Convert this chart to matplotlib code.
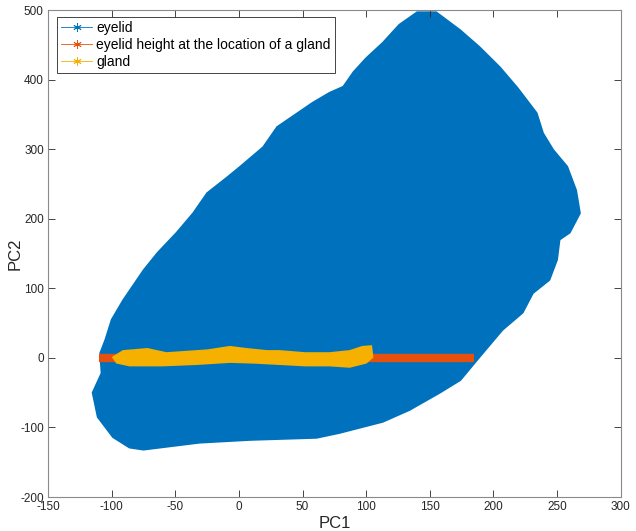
import matplotlib.pyplot as plt
from matplotlib.lines import Line2D

plt.rcParams['font.family'] = ['Liberation Sans', 'DejaVu Sans']
plt.rcParams['axes.unicode_minus'] = False

# eyelid outline in PC space, clockwise from the top
eyelid_pc1 = [140, 155, 174, 189, 205, 219, 234, 239, 247, 258, 265, 268, 260, 252,
              250, 244, 231, 223, 207, 189, 174, 158, 134, 113, 79, 61, 9, -31,
              -75, -86, -99, -111, -115, -108, -109, -105, -100, -91, -75, -64,
              -49, -36, -25, -9, 1, 19, 30, 58, 71, 82, 90, 100, 113, 126]
eyelid_pc2 = [497, 497, 471, 447, 418, 388, 352, 323, 299, 275, 241, 208, 180, 170,
              141, 112, 93, 65, 40, 1, -32, -50, -75, -92, -108, -115, -118, -122,
              -132, -129, -114, -85, -50, -22, 7, 26, 55, 83, 126, 151,
              180, 208, 237, 260, 275, 303, 332, 367, 381, 390, 411, 431, 453, 479]

# eyelid height measured through the gland
height_pc1 = [-110, 185]
height_pc2 = [0, 0]

# gland outline (upper edge left to right, then lower edge back)
gland_pc1 = [-99, -91, -72, -57, -41, -25, -7, 6, 22, 32, 52, 71, 87, 97, 104,
             105, 100, 87, 71, 52, 32, 11, -7, -33, -60, -86, -96]
gland_pc2 = [1, 10, 13, 7, 9, 11, 16, 13, 10, 10, 7, 7, 10, 16, 17,
             1, -7, -13, -11, -11, -9, -7, -6, -9, -11, -11, -7]

blue = '#0072BD'
orange = '#E6500F'
yellow = '#F5B000'
ink = '#262626'

fig = plt.figure(figsize=(6.36, 5.31), dpi=100)
ax = fig.add_axes([0.0755, 0.064, 0.9005, 0.917])

ax.fill(eyelid_pc1, eyelid_pc2, color=blue, lw=1.2, zorder=1)
ax.plot(height_pc1, height_pc2, color=orange, lw=6, solid_capstyle='butt', zorder=2)
ax.fill(gland_pc1, gland_pc2, color=yellow, lw=1.2, zorder=3)

ax.set_xlim(-150, 300)
ax.set_ylim(-200, 500)
ax.set_xticks(range(-150, 301, 50))
ax.set_yticks(range(-200, 501, 100))
ax.tick_params(direction='in', top=True, right=True, length=5, width=0.6,
               colors=ink, labelsize=8.5, labelcolor=ink, pad=3)
for s in ax.spines.values():
    s.set_color('#8a8a8a')
    s.set_linewidth(0.8)

ax.set_xlabel('PC1', fontsize=12, color=ink)
ax.set_ylabel('PC2', fontsize=12, color=ink)
ax.xaxis.set_label_coords(0.5, -0.04)
ax.yaxis.set_label_coords(-0.045, 0.5)

# asterisk marker, as drawn for each sample point
handles = [Line2D([], [], color=c, lw=0.6, marker=(6, 2, 0), markersize=6,
                  markeredgewidth=0.6) for c in (blue, orange, yellow)]
labels = ['eyelid', 'eyelid height at the location of a gland', 'gland']
leg = ax.legend(handles, labels, loc='upper left', bbox_to_anchor=(0.016, 0.986),
                fontsize=10, fancybox=False, framealpha=1, edgecolor=ink,
                borderaxespad=0, handlelength=2.2, handletextpad=0.3,
                labelspacing=0.2, borderpad=0.3)
leg.get_frame().set_linewidth(0.6)

fig.savefig('out.png', dpi=100)
